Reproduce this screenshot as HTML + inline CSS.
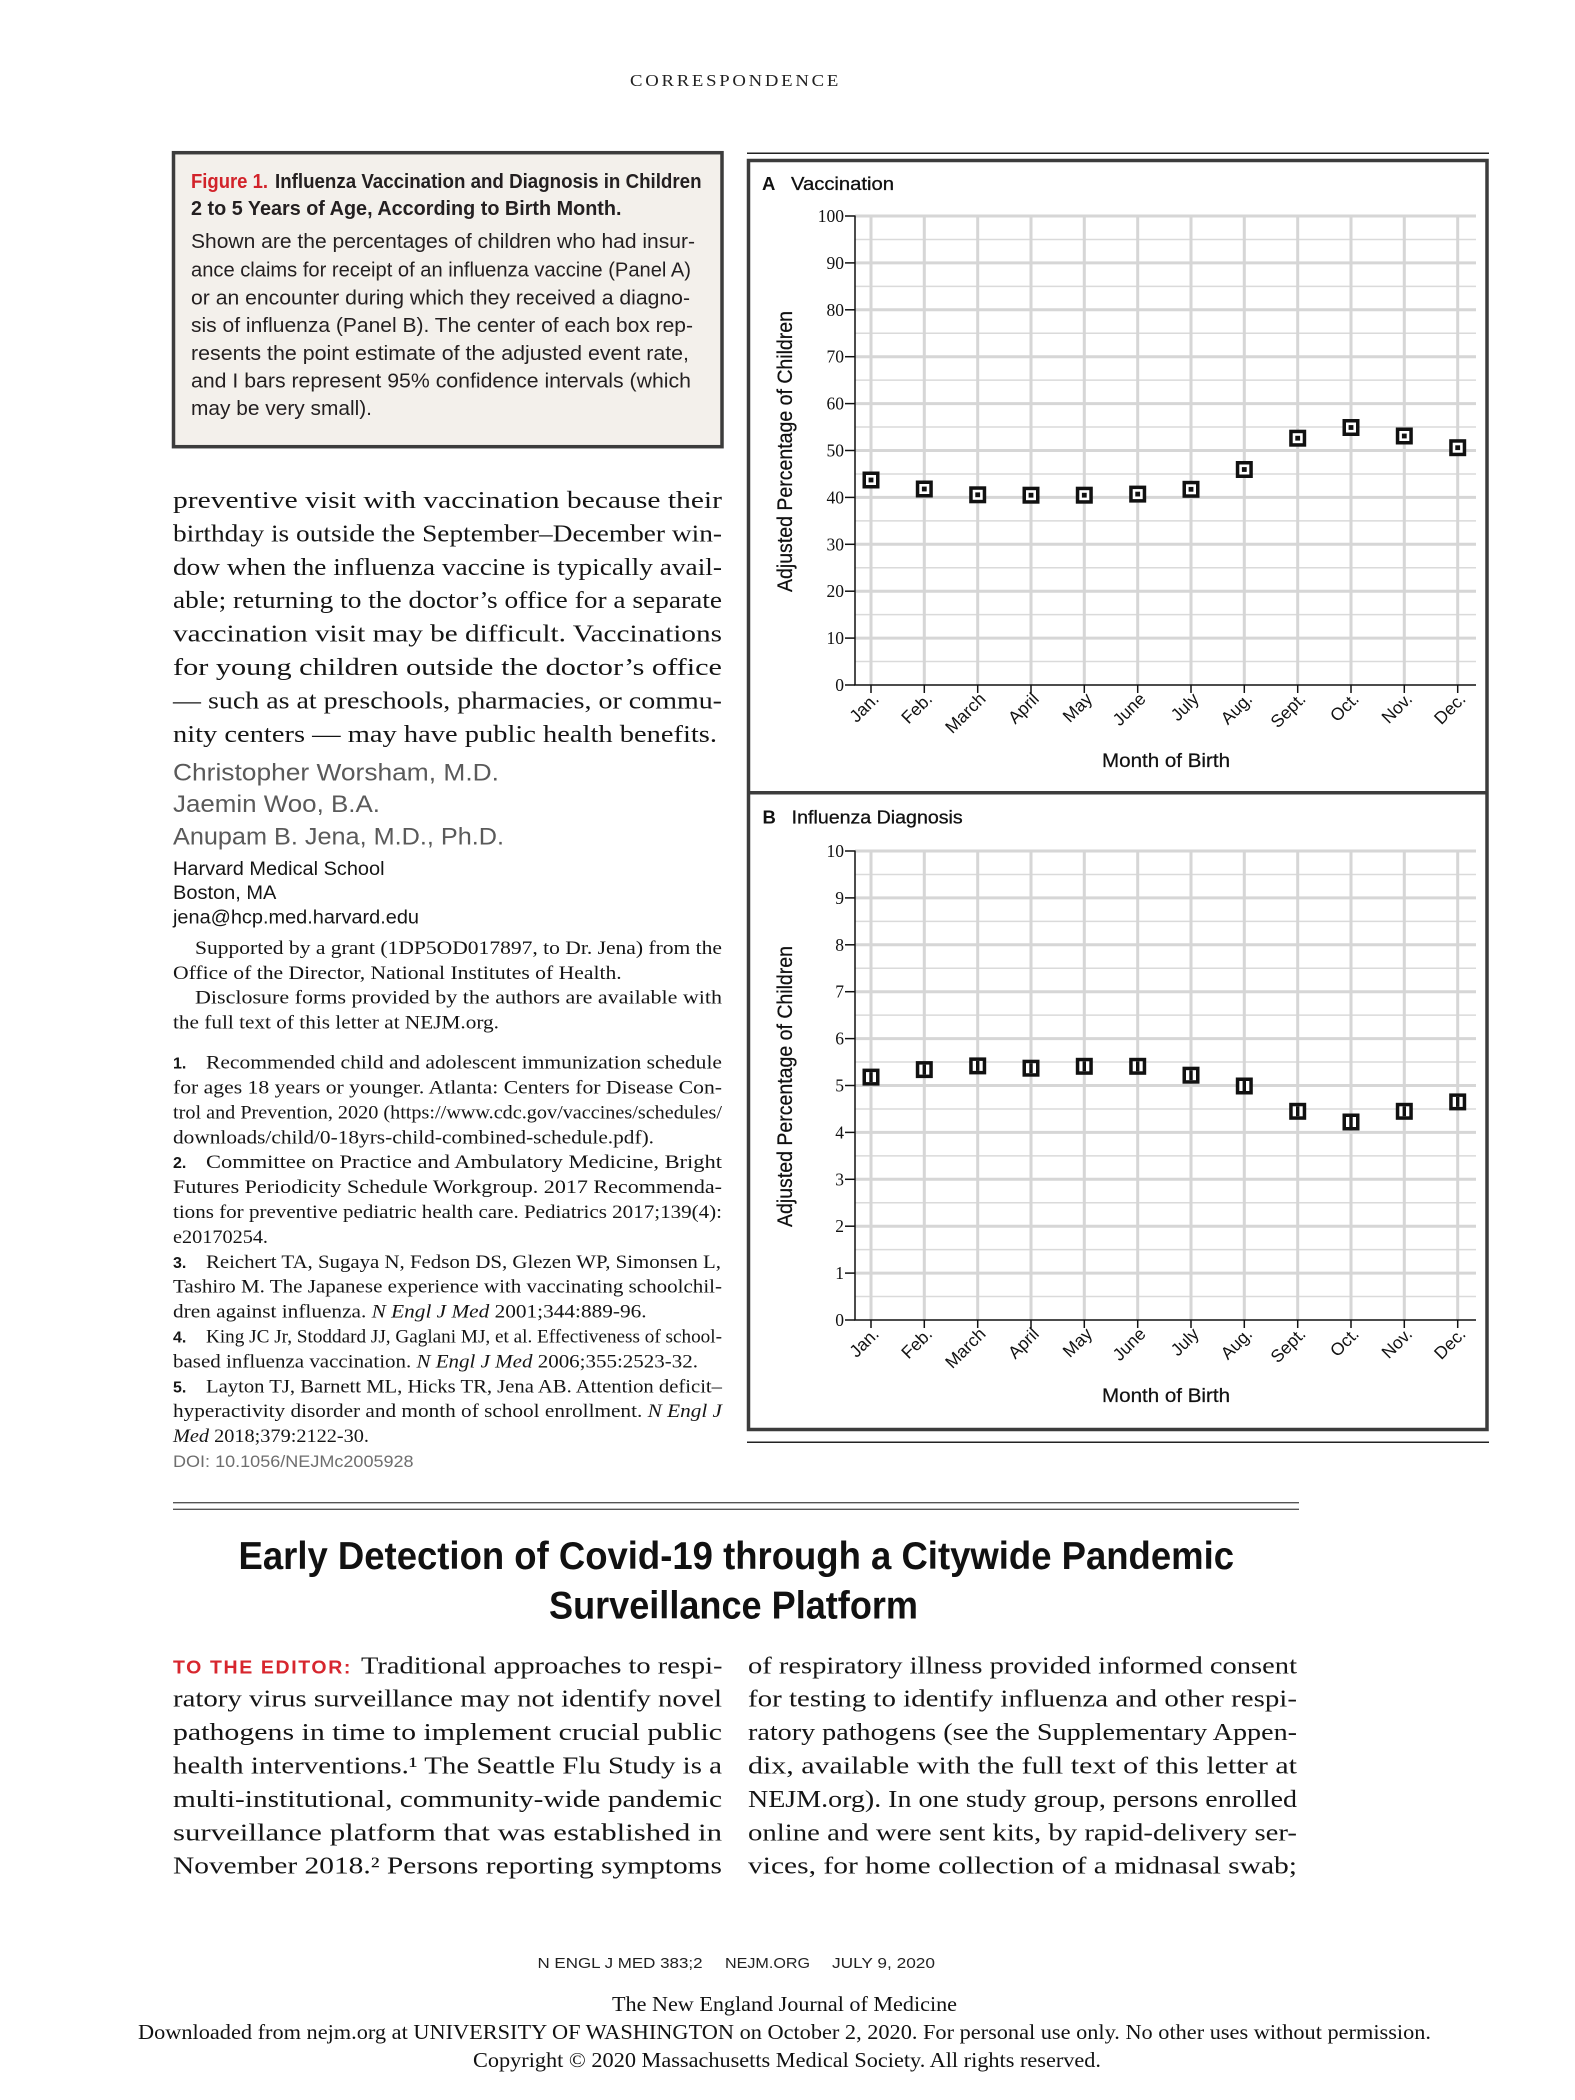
<!DOCTYPE html>
<html>
<head>
<meta charset="utf-8">
<style>
html,body{margin:0;padding:0;background:#fff;}
svg{display:block;}
.serif{font-family:"Liberation Serif",serif;}
.sans{font-family:"Liberation Sans",sans-serif;}
</style>
</head>
<body>
<svg width="1575" height="2100" viewBox="0 0 1575 2100" xmlns="http://www.w3.org/2000/svg">
<defs>
  <g id="mA">
    <rect x="-8.5" y="-8.5" width="17" height="17" fill="#111"/>
    <rect x="-5" y="-5" width="10" height="10" fill="#fff"/>
    <rect x="-2.4" y="-2.4" width="4.8" height="4.8" fill="#111"/>
  </g>
  <g id="mB">
    <rect x="-8.5" y="-8.5" width="17" height="17" fill="#111"/>
    <rect x="-5" y="-5" width="10" height="10" fill="#fff"/>
    <rect x="-1.7" y="-5" width="3.4" height="10" fill="#111"/>
  </g>
  <g id="gridA">
    <g stroke="#dadada" stroke-width="1.5">
      <line x1="855" y1="661.55" x2="1476" y2="661.55"/>
      <line x1="855" y1="614.65" x2="1476" y2="614.65"/>
      <line x1="855" y1="567.75" x2="1476" y2="567.75"/>
      <line x1="855" y1="520.85" x2="1476" y2="520.85"/>
      <line x1="855" y1="473.95" x2="1476" y2="473.95"/>
      <line x1="855" y1="427.05" x2="1476" y2="427.05"/>
      <line x1="855" y1="380.15" x2="1476" y2="380.15"/>
      <line x1="855" y1="333.25" x2="1476" y2="333.25"/>
      <line x1="855" y1="286.35" x2="1476" y2="286.35"/>
      <line x1="855" y1="239.45" x2="1476" y2="239.45"/>
    </g>
    <g stroke="#d6d6d6" stroke-width="3">
      <line x1="855" y1="638.1" x2="1476" y2="638.1"/>
      <line x1="855" y1="591.2" x2="1476" y2="591.2"/>
      <line x1="855" y1="544.3" x2="1476" y2="544.3"/>
      <line x1="855" y1="497.4" x2="1476" y2="497.4"/>
      <line x1="855" y1="450.5" x2="1476" y2="450.5"/>
      <line x1="855" y1="403.6" x2="1476" y2="403.6"/>
      <line x1="855" y1="356.7" x2="1476" y2="356.7"/>
      <line x1="855" y1="309.8" x2="1476" y2="309.8"/>
      <line x1="855" y1="262.9" x2="1476" y2="262.9"/>
      <line x1="855" y1="216" x2="1476" y2="216"/>
      <line x1="871" y1="216" x2="871" y2="685"/>
      <line x1="924.3" y1="216" x2="924.3" y2="685"/>
      <line x1="977.7" y1="216" x2="977.7" y2="685"/>
      <line x1="1031" y1="216" x2="1031" y2="685"/>
      <line x1="1084.3" y1="216" x2="1084.3" y2="685"/>
      <line x1="1137.7" y1="216" x2="1137.7" y2="685"/>
      <line x1="1191" y1="216" x2="1191" y2="685"/>
      <line x1="1244.3" y1="216" x2="1244.3" y2="685"/>
      <line x1="1297.7" y1="216" x2="1297.7" y2="685"/>
      <line x1="1351" y1="216" x2="1351" y2="685"/>
      <line x1="1404.3" y1="216" x2="1404.3" y2="685"/>
      <line x1="1457.7" y1="216" x2="1457.7" y2="685"/>
    </g>
    <g stroke="#111" stroke-width="1.5">
      <line x1="855" y1="215.5" x2="855" y2="685"/>
      <line x1="854.25" y1="685" x2="1476" y2="685"/>
      <line x1="845" y1="685" x2="855" y2="685"/>
      <line x1="845" y1="638.1" x2="855" y2="638.1"/>
      <line x1="845" y1="591.2" x2="855" y2="591.2"/>
      <line x1="845" y1="544.3" x2="855" y2="544.3"/>
      <line x1="845" y1="497.4" x2="855" y2="497.4"/>
      <line x1="845" y1="450.5" x2="855" y2="450.5"/>
      <line x1="845" y1="403.6" x2="855" y2="403.6"/>
      <line x1="845" y1="356.7" x2="855" y2="356.7"/>
      <line x1="845" y1="309.8" x2="855" y2="309.8"/>
      <line x1="845" y1="262.9" x2="855" y2="262.9"/>
      <line x1="845" y1="216" x2="855" y2="216"/>
      <line x1="871" y1="685" x2="871" y2="693"/>
      <line x1="924.3" y1="685" x2="924.3" y2="693"/>
      <line x1="977.7" y1="685" x2="977.7" y2="693"/>
      <line x1="1031" y1="685" x2="1031" y2="693"/>
      <line x1="1084.3" y1="685" x2="1084.3" y2="693"/>
      <line x1="1137.7" y1="685" x2="1137.7" y2="693"/>
      <line x1="1191" y1="685" x2="1191" y2="693"/>
      <line x1="1244.3" y1="685" x2="1244.3" y2="693"/>
      <line x1="1297.7" y1="685" x2="1297.7" y2="693"/>
      <line x1="1351" y1="685" x2="1351" y2="693"/>
      <line x1="1404.3" y1="685" x2="1404.3" y2="693"/>
      <line x1="1457.7" y1="685" x2="1457.7" y2="693"/>
    </g>
  </g>
</defs>

<!-- Header -->
<text class="serif" x="630" y="86" font-size="17" letter-spacing="2.5" fill="#222" textLength="211" lengthAdjust="spacingAndGlyphs">CORRESPONDENCE</text>

<!-- Caption box -->
<rect x="173.5" y="152.7" width="548.5" height="294" fill="#f3f0eb" stroke="#3c3c3c" stroke-width="3.5"/>
<g class="sans" fill="#231f20">
  <text x="191" y="188" font-size="20" font-weight="bold" fill="#d2232a" textLength="77" lengthAdjust="spacingAndGlyphs">Figure 1.</text>
  <text x="275" y="188" font-size="20" font-weight="bold" textLength="426.5" lengthAdjust="spacingAndGlyphs">Influenza Vaccination and Diagnosis in Children</text>
  <text x="191" y="215" font-size="20" font-weight="bold" textLength="430.5" lengthAdjust="spacingAndGlyphs">2 to 5 Years of Age, According to Birth Month.</text>
  <text x="191" y="248" font-size="20.5" textLength="504" lengthAdjust="spacingAndGlyphs">Shown are the percentages of children who had insur-</text>
  <text x="191" y="276.7" font-size="20.5" textLength="500" lengthAdjust="spacingAndGlyphs">ance claims for receipt of an influenza vaccine (Panel A)</text>
  <text x="191" y="304.4" font-size="20.5" textLength="499" lengthAdjust="spacingAndGlyphs">or an encounter during which they received a diagno-</text>
  <text x="191" y="332.1" font-size="20.5" textLength="502" lengthAdjust="spacingAndGlyphs">sis of influenza (Panel B). The center of each box rep-</text>
  <text x="191" y="359.8" font-size="20.5" textLength="498" lengthAdjust="spacingAndGlyphs">resents the point estimate of the adjusted event rate,</text>
  <text x="191" y="387.5" font-size="20.5" textLength="500" lengthAdjust="spacingAndGlyphs">and I bars represent 95% confidence intervals (which</text>
  <text x="191" y="415.2" font-size="20.5" textLength="181" lengthAdjust="spacingAndGlyphs">may be very small).</text>
</g>

<!-- Left column body -->
<g class="serif" font-size="24.5" fill="#151515">
  <text x="173" y="508" textLength="549" lengthAdjust="spacingAndGlyphs">preventive visit with vaccination because their</text>
  <text x="173" y="541.4" textLength="549" lengthAdjust="spacingAndGlyphs">birthday is outside the September–December win-</text>
  <text x="173" y="574.8" textLength="549" lengthAdjust="spacingAndGlyphs">dow when the influenza vaccine is typically avail-</text>
  <text x="173" y="608.2" textLength="549" lengthAdjust="spacingAndGlyphs">able; returning to the doctor’s office for a separate</text>
  <text x="173" y="641.6" textLength="549" lengthAdjust="spacingAndGlyphs">vaccination visit may be difficult. Vaccinations</text>
  <text x="173" y="675" textLength="549" lengthAdjust="spacingAndGlyphs">for young children outside the doctor’s office</text>
  <text x="173" y="708.4" textLength="549" lengthAdjust="spacingAndGlyphs">— such as at preschools, pharmacies, or commu-</text>
  <text x="173" y="741.8" textLength="544" lengthAdjust="spacingAndGlyphs">nity centers — may have public health benefits.</text>
</g>
<g class="sans" font-size="24.5" fill="#5a5a5a">
  <text x="173" y="780.3" textLength="326" lengthAdjust="spacingAndGlyphs">Christopher Worsham, M.D.</text>
  <text x="173" y="812" textLength="207" lengthAdjust="spacingAndGlyphs">Jaemin Woo, B.A.</text>
  <text x="173" y="844.7" textLength="331" lengthAdjust="spacingAndGlyphs">Anupam B. Jena, M.D., Ph.D.</text>
</g>
<g class="sans" font-size="19" fill="#151515">
  <text x="173" y="875" textLength="211.5" lengthAdjust="spacingAndGlyphs">Harvard Medical School</text>
  <text x="173" y="899" textLength="103.4" lengthAdjust="spacingAndGlyphs">Boston, MA</text>
  <text x="173" y="923.3" textLength="246" lengthAdjust="spacingAndGlyphs">jena@hcp.med.harvard.edu</text>
</g>
<g class="serif" font-size="19" fill="#151515">
  <text x="195" y="954" textLength="527" lengthAdjust="spacingAndGlyphs">Supported by a grant (1DP5OD017897, to Dr. Jena) from the</text>
  <text x="173" y="978.8" textLength="448.7" lengthAdjust="spacingAndGlyphs">Office of the Director, National Institutes of Health.</text>
  <text x="195" y="1003.7" textLength="527" lengthAdjust="spacingAndGlyphs">Disclosure forms provided by the authors are available with</text>
  <text x="173" y="1028.6" textLength="326" lengthAdjust="spacingAndGlyphs">the full text of this letter at NEJM.org.</text>
</g>
<!-- References -->
<g class="sans" font-size="16" font-weight="bold" fill="#151515">
  <text x="173" y="1068.6">1.</text>
  <text x="173" y="1168.2">2.</text>
  <text x="173" y="1267.8">3.</text>
  <text x="173" y="1342.5">4.</text>
  <text x="173" y="1392.3">5.</text>
</g>
<g class="serif" font-size="18.5" fill="#151515">
  <text x="206" y="1068.6" textLength="516" lengthAdjust="spacingAndGlyphs">Recommended child and adolescent immunization schedule</text>
  <text x="173" y="1093.5" textLength="549" lengthAdjust="spacingAndGlyphs">for ages 18 years or younger. Atlanta: Centers for Disease Con-</text>
  <text x="173" y="1118.4" textLength="549" lengthAdjust="spacingAndGlyphs">trol and Prevention, 2020 (https://www.cdc.gov/vaccines/schedules/</text>
  <text x="173" y="1143.3" textLength="481" lengthAdjust="spacingAndGlyphs">downloads/child/0-18yrs-child-combined-schedule.pdf).</text>
  <text x="206" y="1168.2" textLength="516" lengthAdjust="spacingAndGlyphs">Committee on Practice and Ambulatory Medicine, Bright</text>
  <text x="173" y="1193.1" textLength="549" lengthAdjust="spacingAndGlyphs">Futures Periodicity Schedule Workgroup. 2017 Recommenda-</text>
  <text x="173" y="1218" textLength="549" lengthAdjust="spacingAndGlyphs">tions for preventive pediatric health care. Pediatrics 2017;139(4):</text>
  <text x="173" y="1242.9" textLength="95" lengthAdjust="spacingAndGlyphs">e20170254.</text>
  <text x="206" y="1267.8" textLength="515" lengthAdjust="spacingAndGlyphs">Reichert TA, Sugaya N, Fedson DS, Glezen WP, Simonsen L,</text>
  <text x="173" y="1292.7" textLength="549" lengthAdjust="spacingAndGlyphs">Tashiro M. The Japanese experience with vaccinating schoolchil-</text>
  <text x="173" y="1317.6" textLength="473.6" lengthAdjust="spacingAndGlyphs">dren against influenza. <tspan font-style="italic">N Engl J Med</tspan> 2001;344:889-96.</text>
  <text x="206" y="1342.5" textLength="516" lengthAdjust="spacingAndGlyphs">King JC Jr, Stoddard JJ, Gaglani MJ, et al. Effectiveness of school-</text>
  <text x="173" y="1367.4" textLength="525" lengthAdjust="spacingAndGlyphs">based influenza vaccination. <tspan font-style="italic">N Engl J Med</tspan> 2006;355:2523-32.</text>
  <text x="206" y="1392.3" textLength="516" lengthAdjust="spacingAndGlyphs">Layton TJ, Barnett ML, Hicks TR, Jena AB. Attention deficit–</text>
  <text x="173" y="1417.2" textLength="549" lengthAdjust="spacingAndGlyphs">hyperactivity disorder and month of school enrollment. <tspan font-style="italic">N Engl J</tspan></text>
  <text x="173" y="1442.1" textLength="196" lengthAdjust="spacingAndGlyphs"><tspan font-style="italic">Med</tspan> 2018;379:2122-30.</text>
</g>
<text class="sans" x="173" y="1467" font-size="17" fill="#6e6e6e" textLength="240.6" lengthAdjust="spacingAndGlyphs">DOI: 10.1056/NEJMc2005928</text>

<!-- Figure frame -->
<line x1="747" y1="153.3" x2="1489" y2="153.3" stroke="#222" stroke-width="1.5"/>
<rect x="748.5" y="160.5" width="738.5" height="1269" fill="#fff" stroke="#3c3c3c" stroke-width="3.5"/>
<line x1="748.5" y1="792.8" x2="1487" y2="792.8" stroke="#3c3c3c" stroke-width="3.5"/>
<line x1="747" y1="1442.3" x2="1489" y2="1442.3" stroke="#222" stroke-width="1.5"/>

<!-- Panel A -->
<text class="sans" x="762" y="190" font-size="18.5" font-weight="bold" fill="#111">A</text>
<text class="sans" x="791" y="190" font-size="18.5" fill="#111" stroke="#111" stroke-width="0.3" textLength="103" lengthAdjust="spacingAndGlyphs">Vaccination</text>
<use href="#gridA"/>
<g class="serif" font-size="17.5" fill="#111" text-anchor="end">
  <text x="844" y="222">100</text>
  <text x="844" y="268.9">90</text>
  <text x="844" y="315.8">80</text>
  <text x="844" y="362.7">70</text>
  <text x="844" y="409.6">60</text>
  <text x="844" y="456.5">50</text>
  <text x="844" y="503.4">40</text>
  <text x="844" y="550.3">30</text>
  <text x="844" y="597.2">20</text>
  <text x="844" y="644.1">10</text>
  <text x="844" y="691">0</text>
</g>
<g class="sans" font-size="17.5" fill="#111" text-anchor="end">
  <text transform="translate(880,700) rotate(-45)">Jan.</text>
  <text transform="translate(933.3,700) rotate(-45)">Feb.</text>
  <text transform="translate(986.7,700) rotate(-45)">March</text>
  <text transform="translate(1040,700) rotate(-45)">April</text>
  <text transform="translate(1093.3,700) rotate(-45)">May</text>
  <text transform="translate(1146.7,700) rotate(-45)">June</text>
  <text transform="translate(1200,700) rotate(-45)">July</text>
  <text transform="translate(1253.3,700) rotate(-45)">Aug.</text>
  <text transform="translate(1306.7,700) rotate(-45)">Sept.</text>
  <text transform="translate(1360,700) rotate(-45)">Oct.</text>
  <text transform="translate(1413.3,700) rotate(-45)">Nov.</text>
  <text transform="translate(1466.7,700) rotate(-45)">Dec.</text>
</g>
<text class="sans" x="1102" y="767" font-size="19.5" fill="#111" stroke="#111" stroke-width="0.25" textLength="128" lengthAdjust="spacingAndGlyphs">Month of Birth</text>
<text class="sans" transform="translate(792,451.5) rotate(-90)" text-anchor="middle" font-size="21" fill="#111" stroke="#111" stroke-width="0.25" textLength="281" lengthAdjust="spacingAndGlyphs">Adjusted Percentage of Children</text>
<use href="#mA" x="871" y="480"/>
<use href="#mA" x="924.3" y="489"/>
<use href="#mA" x="977.7" y="494.8"/>
<use href="#mA" x="1031" y="495.2"/>
<use href="#mA" x="1084.3" y="495.2"/>
<use href="#mA" x="1137.7" y="494.1"/>
<use href="#mA" x="1191" y="489.3"/>
<use href="#mA" x="1244.3" y="469.5"/>
<use href="#mA" x="1297.7" y="438.2"/>
<use href="#mA" x="1351" y="427.5"/>
<use href="#mA" x="1404.3" y="436"/>
<use href="#mA" x="1457.7" y="447.7"/>

<!-- Panel B -->
<text class="sans" x="762.5" y="823.3" font-size="18.5" font-weight="bold" fill="#111">B</text>
<text class="sans" x="791.7" y="823.3" font-size="18.5" fill="#111" stroke="#111" stroke-width="0.3" textLength="171" lengthAdjust="spacingAndGlyphs">Influenza Diagnosis</text>
<use href="#gridA" y="635"/>
<g class="serif" font-size="17.5" fill="#111" text-anchor="end">
  <text x="844" y="857">10</text>
  <text x="844" y="903.9">9</text>
  <text x="844" y="950.8">8</text>
  <text x="844" y="997.7">7</text>
  <text x="844" y="1044.6">6</text>
  <text x="844" y="1091.5">5</text>
  <text x="844" y="1138.4">4</text>
  <text x="844" y="1185.3">3</text>
  <text x="844" y="1232.2">2</text>
  <text x="844" y="1279.1">1</text>
  <text x="844" y="1326">0</text>
</g>
<g class="sans" font-size="17.5" fill="#111" text-anchor="end">
  <text transform="translate(880,1335) rotate(-45)">Jan.</text>
  <text transform="translate(933.3,1335) rotate(-45)">Feb.</text>
  <text transform="translate(986.7,1335) rotate(-45)">March</text>
  <text transform="translate(1040,1335) rotate(-45)">April</text>
  <text transform="translate(1093.3,1335) rotate(-45)">May</text>
  <text transform="translate(1146.7,1335) rotate(-45)">June</text>
  <text transform="translate(1200,1335) rotate(-45)">July</text>
  <text transform="translate(1253.3,1335) rotate(-45)">Aug.</text>
  <text transform="translate(1306.7,1335) rotate(-45)">Sept.</text>
  <text transform="translate(1360,1335) rotate(-45)">Oct.</text>
  <text transform="translate(1413.3,1335) rotate(-45)">Nov.</text>
  <text transform="translate(1466.7,1335) rotate(-45)">Dec.</text>
</g>
<text class="sans" x="1102" y="1402" font-size="19.5" fill="#111" stroke="#111" stroke-width="0.25" textLength="128" lengthAdjust="spacingAndGlyphs">Month of Birth</text>
<text class="sans" transform="translate(792,1086.5) rotate(-90)" text-anchor="middle" font-size="21" fill="#111" stroke="#111" stroke-width="0.25" textLength="281" lengthAdjust="spacingAndGlyphs">Adjusted Percentage of Children</text>
<use href="#mB" x="871" y="1077.1"/>
<use href="#mB" x="924.3" y="1069.6"/>
<use href="#mB" x="977.7" y="1065.9"/>
<use href="#mB" x="1031" y="1068.2"/>
<use href="#mB" x="1084.3" y="1066.3"/>
<use href="#mB" x="1137.7" y="1066.3"/>
<use href="#mB" x="1191" y="1075.2"/>
<use href="#mB" x="1244.3" y="1086"/>
<use href="#mB" x="1297.7" y="1111.3"/>
<use href="#mB" x="1351" y="1122"/>
<use href="#mB" x="1404.3" y="1111.3"/>
<use href="#mB" x="1457.7" y="1101.9"/>

<!-- Bottom article -->
<line x1="173" y1="1502.7" x2="1299" y2="1502.7" stroke="#555" stroke-width="1.3"/>
<line x1="173" y1="1509.3" x2="1299" y2="1509.3" stroke="#555" stroke-width="1.3"/>
<text class="sans" x="238.5" y="1569" font-size="38.5" font-weight="bold" fill="#111" textLength="995.5" lengthAdjust="spacingAndGlyphs">Early Detection of Covid-19 through a Citywide Pandemic</text>
<text class="sans" x="549" y="1618.3" font-size="38.5" font-weight="bold" fill="#111" textLength="369" lengthAdjust="spacingAndGlyphs">Surveillance Platform</text>

<text class="sans" x="173" y="1673.3" font-size="18" font-weight="bold" fill="#d7262e" letter-spacing="1.5" textLength="179" lengthAdjust="spacingAndGlyphs">TO THE EDITOR:</text>
<g class="serif" font-size="24.5" fill="#151515">
  <text x="361" y="1673.3" textLength="361.5" lengthAdjust="spacingAndGlyphs">Traditional approaches to respi-</text>
  <text x="173" y="1706.7" textLength="549" lengthAdjust="spacingAndGlyphs">ratory virus surveillance may not identify novel</text>
  <text x="173" y="1740.1" textLength="549" lengthAdjust="spacingAndGlyphs">pathogens in time to implement crucial public</text>
  <text x="173" y="1773.5" textLength="549" lengthAdjust="spacingAndGlyphs">health interventions.¹ The Seattle Flu Study is a</text>
  <text x="173" y="1806.9" textLength="549" lengthAdjust="spacingAndGlyphs">multi-institutional, community-wide pandemic</text>
  <text x="173" y="1840.3" textLength="549" lengthAdjust="spacingAndGlyphs">surveillance platform that was established in</text>
  <text x="173" y="1873.7" textLength="549" lengthAdjust="spacingAndGlyphs">November 2018.² Persons reporting symptoms</text>

  <text x="748" y="1673.3" textLength="549" lengthAdjust="spacingAndGlyphs">of respiratory illness provided informed consent</text>
  <text x="748" y="1706.7" textLength="549" lengthAdjust="spacingAndGlyphs">for testing to identify influenza and other respi-</text>
  <text x="748" y="1740.1" textLength="549" lengthAdjust="spacingAndGlyphs">ratory pathogens (see the Supplementary Appen-</text>
  <text x="748" y="1773.5" textLength="549" lengthAdjust="spacingAndGlyphs">dix, available with the full text of this letter at</text>
  <text x="748" y="1806.9" textLength="549" lengthAdjust="spacingAndGlyphs">NEJM.org). In one study group, persons enrolled</text>
  <text x="748" y="1840.3" textLength="549" lengthAdjust="spacingAndGlyphs">online and were sent kits, by rapid-delivery ser-</text>
  <text x="748" y="1873.7" textLength="549" lengthAdjust="spacingAndGlyphs">vices, for home collection of a midnasal swab;</text>
</g>

<!-- Footer -->
<g class="sans" font-size="14.5" fill="#222">
  <text x="537.5" y="1968" textLength="165" lengthAdjust="spacingAndGlyphs">N ENGL J MED 383;2</text>
  <text x="725" y="1968" textLength="85" lengthAdjust="spacingAndGlyphs">NEJM.ORG</text>
  <text x="832" y="1968" textLength="103" lengthAdjust="spacingAndGlyphs">JULY 9, 2020</text>
</g>
<g class="serif" font-size="21" fill="#111">
  <text x="612" y="2011" textLength="345" lengthAdjust="spacingAndGlyphs">The New England Journal of Medicine</text>
  <text x="138" y="2039" textLength="1293" lengthAdjust="spacingAndGlyphs">Downloaded from nejm.org at UNIVERSITY OF WASHINGTON on October 2, 2020. For personal use only. No other uses without permission.</text>
  <text x="473" y="2067" textLength="628" lengthAdjust="spacingAndGlyphs">Copyright © 2020 Massachusetts Medical Society. All rights reserved.</text>
</g>
</svg>
</body>
</html>
